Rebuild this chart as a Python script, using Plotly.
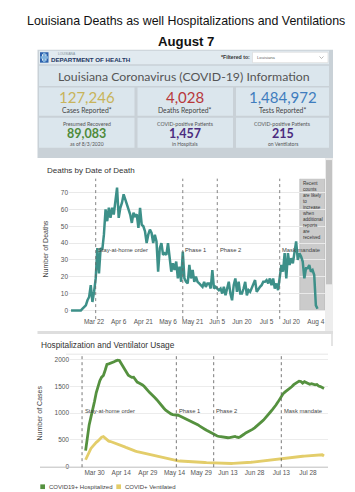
import pandas as pd
import plotly.graph_objects as go

# ---------------- data ----------------
death_start = "2020-03-08"
deaths_mar = [0, 0, 0, 0, 0, 0, 0, 1, 2, 3, 6, 8, 15, 5, 11, 19, 37, 22, 37, 36, 45, 60, 53, 61]
deaths_apr = [55, 61, 57, 67, 73, 55, 61, 64, 69, 66, 63, 60, 57, 52, 58, 56, 57, 49, 61, 51,
              50, 47, 40, 45, 48, 46, 40, 45, 41, 23]
deaths_may = [37, 40, 33, 34, 33, 40, 31, 23, 28, 24, 29, 19, 26, 17, 35, 19, 17,
              16, 27, 19, 24, 17, 20, 17, 16, 15, 14, 17, 14, 16, 16]
deaths_jun = [13, 24, 13, 14, 13, 12, 13, 10, 14, 9, 13, 17, 10, 6, 15, 19, 11, 17, 10, 10,
              13, 17, 9, 12, 11, 13, 16, 18, 11, 13]
deaths_jul = [14, 15, 17, 17, 18, 16, 19, 15, 19, 13, 16, 12, 20, 27, 23, 34, 19, 34, 27, 31,
              28, 35, 41, 30, 34, 32, 29, 19, 25, 25, 27]
deaths_aug = [23, 24, 21, 3, 1]

hosp_start = "2020-03-25"
hosp_mar = [300, 600, 780, 925, 1050, 1215, 1383]
hosp_apr = [1506, 1605, 1670, 1700, 1800, 1910, 1919, 1928, 1948, 1956, 1975, 1987, 1981, 1925, 1857,
            1814, 1748, 1705, 1685, 1666, 1670, 1610, 1578, 1560, 1549, 1525, 1495, 1450, 1416, 1383]
hosp_may = [1350, 1325, 1285, 1250, 1205, 1165, 1120, 1090, 1055, 1030, 1000, 985, 972, 970, 955, 960,
            945, 930, 910, 895, 880, 860, 845, 830, 815, 800, 785, 760, 735, 715, 700]
hosp_jun = [680, 660, 640, 620, 600, 585, 572, 565, 558, 550, 544, 540, 540, 542, 545, 555, 565, 550,
            545, 560, 575, 605, 630, 645, 660, 675, 700, 725, 750, 775]
hosp_jul = [805, 840, 870, 905, 940, 980, 1025, 1065, 1100, 1150, 1200, 1260, 1320, 1360, 1390, 1415,
            1435, 1470, 1495, 1530, 1550, 1565, 1595, 1590, 1560, 1585, 1570, 1550, 1538, 1548, 1535]
hosp_aug = [1527, 1535, 1505, 1495, 1480, 1460]

vent_mar = [130, 200, 280, 340, 380, 425, 455]
vent_apr = [480, 525, 550, 560, 535, 500, 477, 470, 459, 445, 435, 425, 410, 395, 385, 370, 355, 340,
            322, 310, 300, 292, 283, 275, 268, 260, 250, 243, 235, 228]
vent_may = [220, 210, 200, 193, 186, 180, 172, 165, 155, 148, 140, 136, 130, 124, 118, 110, 106, 103,
            101, 99, 97, 95, 93, 91, 90, 89, 88, 85, 82, 80, 78]
vent_jun = [76, 74, 72, 71, 70, 68, 66, 64, 62, 61, 60, 60, 59, 59, 60, 61, 62, 63, 65, 67, 69, 71,
            74, 77, 80, 83, 86, 90, 93, 97]
vent_jul = [100, 104, 108, 113, 118, 124, 130, 135, 140, 145, 150, 152, 155, 160, 165, 170, 175, 180,
            183, 186, 190, 193, 194, 194, 195, 197, 200, 205, 210, 213, 216]
vent_aug = [220, 224, 228, 232, 222, 200]

death_tick_dates = ["2020-03-22", "2020-04-06", "2020-04-21", "2020-05-06", "2020-05-21",
                    "2020-06-05", "2020-06-20", "2020-07-05", "2020-07-20", "2020-08-04"]
death_tick_labels = ["Mar 22", "Apr 6", "Apr 21", "May 6", "May 21", "Jun 5", "Jun 20",
                     "Jul 5", "Jul 20", "Aug 4"]
hosp_tick_dates = ["2020-03-30", "2020-04-14", "2020-04-29", "2020-05-14", "2020-05-29",
                   "2020-06-13", "2020-06-28", "2020-07-13", "2020-07-28"]
hosp_tick_labels = ["Mar 30", "Apr 14", "Apr 29", "May 14", "May 29", "Jun 13", "Jun 28",
                    "Jul 13", "Jul 28"]
death_y_ticks = [0, 10, 20, 30, 40, 50, 60, 70]
hosp_y_ticks = [0, 500, 1000, 1500, 2000]

event_dates = ["2020-03-23", "2020-05-15", "2020-06-05", "2020-07-13"]
event_labels = ["Stay-at-home order", "Phase 1", "Phase 2", "Mask mandate"]

kpi_values = ["127,246", "4,028", "1,484,972"]
kpi_labels = ["Cases Reported*", "Deaths Reported*", "Tests Reported*"]
kpi2_top = ["Presumed Recovered", "COVID-positive Patients", "COVID-positive Patients"]
kpi2_values = ["89,083", "1,457", "215"]
kpi2_bottom = ["as of 8/3/2020", "in Hospitals", "on Ventilators"]

# ---------------- helpers ----------------
W, H = 355, 492
def PX(x): return x / W
def PY(y): return 1 - y / H

deaths = deaths_mar + deaths_apr + deaths_may + deaths_jun + deaths_jul + deaths_aug
hosp = hosp_mar + hosp_apr + hosp_may + hosp_jun + hosp_jul + hosp_aug
vent = vent_mar + vent_apr + vent_may + vent_jun + vent_jul + vent_aug
death_dates = pd.date_range(death_start, periods=len(deaths), freq="D")
hosp_dates = pd.date_range(hosp_start, periods=len(hosp), freq="D")

CF = "Liberation Sans, Arial, sans-serif"
DF = "Lato, Open Sans, sans-serif"

shapes = []
ann = []

def rect(x0, y0, x1, y1, color, line=None, layer="below"):
    d = dict(type="rect", xref="paper", yref="paper", x0=PX(x0), x1=PX(x1), y0=PY(y1), y1=PY(y0),
             fillcolor=color, layer=layer, line=dict(width=0))
    if line:
        d["line"] = dict(width=0.6, color=line)
    shapes.append(d)

def text(x, y, s, size, color="#444", xanchor="center", bold=False, font=DF, yanchor="middle"):
    if bold:
        s = "<b>" + s + "</b>"
    ann.append(dict(xref="paper", yref="paper", x=PX(x), y=PY(y), text=s, showarrow=False,
                    xanchor=xanchor, yanchor=yanchor, font=dict(size=size, color=color, family=font),
                    borderpad=0))

# ---------------- dashboard panel ----------------
rect(29.5, 42, 325, 151, "#c9d1d7")
rect(31, 43, 321, 56.5, "#e1eaf0")
rect(31, 58, 321, 78.5, "#dbe6ed")
box_x = [(31, 126.5), (129.5, 225), (228, 321)]
for (a, b) in box_x:
    rect(a, 80, b, 108.5, "#dbe6ed")
    rect(a, 110.5, b, 140.5, "#dbe6ed")

# logo
rect(32, 44.5, 40.5, 55, "#2d62ad")
rect(34, 46.5, 38.5, 53, "#e1eaf0")
rect(35, 45, 37.5, 54.5, "#7fb2dd")
rect(32.5, 48.5, 40, 51, "#7fb2dd")
text(49, 46.3, "LOUISIANA", 3.2, "#7b8a99", "left", font=CF)
text(42, 51.8, "DEPARTMENT OF HEALTH", 6.2, "#1d3763", "left", bold=True, font=CF)
text(243, 49.5, "*Filtered to:", 5.2, "#333", "right", bold=True, font=CF)
rect(244.5, 44.5, 320, 55, "#ffffff", line="#d5d5d5")
text(248, 49.8, "Louisiana", 4.2, "#666", "left", font=CF)
shapes.append(dict(type="path", xref="paper", yref="paper",
                   path="M {} {} L {} {} L {} {}".format(PX(311.5), PY(48.8), PX(313.5), PY(50.8),
                                                       PX(315.5), PY(48.8)),
                   line=dict(color="#999", width=0.7)))

text(176, 68.5, "Louisiana Coronavirus (COVID-19) Information", 12.3, "#555")

kpi_colors = ["#c8b45b", "#b8383b", "#3f7dbe"]
kpi2_colors = ["#4f8b3b", "#4b2c7f", "#4b2c7f"]
centers = [(a + b) / 2 for a, b in box_x]
for i, cx in enumerate(centers):
    text(cx, 90, kpi_values[i], 15, kpi_colors[i])
    text(cx, 102.8, kpi_labels[i], 6.8, "#444")
    text(cx, 116.3, kpi2_top[i], 5.2, "#555")
    text(cx, 126.5, kpi2_values[i], 12.5, kpi2_colors[i], bold=True)
    text(cx, 136.8, kpi2_bottom[i], 5, "#555")

# ---------------- deaths panel ----------------
rect(31, 151, 317, 325, "#ffffff")
rect(317, 151, 325, 325, "#ededed")
rect(318, 153, 324, 278, "#c3c3c3")
rect(29.5, 325, 325, 328, "#dedede")
rect(323, 328, 325, 340, "#e4e4e4")
text(38, 164, "Deaths by Date of Death", 8, "#333", "left", font=CF)
ann.append(dict(xref="paper", yref="paper", x=PX(38), y=PY(243), text="Number of Deaths",
                textangle=-90, showarrow=False, xanchor="center", yanchor="middle",
                font=dict(size=7, color="#444", family=CF)))

# ---------------- hosp panel ----------------
text(32, 339.5, "Hospitalization and Ventilator Usage", 8.3, "#333", "left", font=CF)
ann.append(dict(xref="paper", yref="paper", x=PX(32), y=PY(408), text="Number of Cases",
                textangle=-90, showarrow=False, xanchor="center", yanchor="middle",
                font=dict(size=7, color="#444", family=CF)))
shapes.append(dict(type="line", xref="paper", yref="paper", x0=PX(32), x1=PX(320), y0=PY(462),
                   y1=PY(462), line=dict(color="#bdbdbd", width=1)))
shapes.append(dict(type="line", xref="paper", yref="paper", x0=PX(58), x1=PX(320), y0=PY(348.3),
                   y1=PY(348.3), line=dict(color="#e6e6e6", width=1)))
rect(0, 488, 355, 492, "#e6e6e6")
# legend
rect(32.3, 479.3, 37, 484, "#55913f")
text(39.5, 481.7, "COVID19+ Hospitalized", 6, "#444", "left", font=CF)
rect(108.3, 479.3, 113, 484, "#e3cd6a")
text(116, 481.7, "COVID+ Ventilated", 6, "#444", "left", font=CF)

# titles
text(177.5, 13.5, "Louisiana Deaths as well Hospitalizations and Ventilations", 12.4, "#111", font=CF)
text(177.5, 33.5, "August 7", 13.2, "#111", bold=True, font=CF)

# ---------------- event lines ----------------
for i, dte in enumerate(event_dates):
    shapes.append(dict(type="line", xref="x", yref="paper", x0=dte, x1=dte, y0=PY(313), y1=PY(171.7),
                       line=dict(color="#666", width=0.8, dash="dot")))
    shapes.append(dict(type="line", xref="x2", yref="paper", x0=dte, x1=dte, y0=PY(462), y1=PY(348.3),
                       line=dict(color="#555", width=0.8, dash="dot")))
    ann.append(dict(xref="x", yref="y", x=dte, y=36, text=event_labels[i], showarrow=False,
                    xanchor="left", xshift=0.5, font=dict(size=5.8, color="#444", family=CF)))
    ann.append(dict(xref="x2", yref="y2", x=dte, y=1044, text=event_labels[i], showarrow=False,
                    xanchor="left", xshift=0.5, font=dict(size=5.8, color="#444", family=CF)))

# shaded "recent" region
shapes.append(dict(type="rect", xref="x", yref="y", x0="2020-07-25 05:00", x1="2020-08-09 13:30",
                   y0=0, y1=78.3, fillcolor="#cbcbcb", layer="below", line=dict(width=0.6, color="#b0b0b0")))
ann.append(dict(xref="paper", yref="paper", x=PX(292.5), y=PY(172.5), xanchor="left", yanchor="top",
                text="Recent<br>counts<br>are likely<br>to<br>increase<br>when<br>additional<br>reports<br>are<br>received",
                align="left", showarrow=False, font=dict(size=4.6, color="#333", family=CF)))

# ---------------- traces ----------------
fig = go.Figure()
fig.add_trace(go.Scatter(x=death_dates, y=deaths, mode="lines", xaxis="x", yaxis="y",
                         line=dict(color="#3d9089", width=2.5), hoverinfo="skip"))
fig.add_trace(go.Scatter(x=hosp_dates, y=vent, mode="lines", xaxis="x2", yaxis="y2",
                         line=dict(color="#e3cd6a", width=2.8), name="COVID+ Ventilated"))
fig.add_trace(go.Scatter(x=hosp_dates, y=hosp, mode="lines", xaxis="x2", yaxis="y2",
                         line=dict(color="#55913f", width=2.8), name="COVID19+ Hospitalized"))

tickf = dict(size=6.5, color="#555", family=CF)
fig.update_layout(
    width=W, height=H, margin=dict(l=0, r=0, t=0, b=0),
    paper_bgcolor="white", plot_bgcolor="rgba(0,0,0,0)", showlegend=False,
    xaxis=dict(domain=[PX(61), PX(317)], range=["2020-03-06 18:00", "2020-08-09 13:30"], type="date",
               tickvals=death_tick_dates, ticktext=death_tick_labels, showgrid=False, zeroline=False,
               ticks="", tickfont=tickf, anchor="y", ticklabelstandoff=0, fixedrange=True),
    yaxis=dict(domain=[PY(310), PY(171.7)], range=[-3.4, 78.3], tickvals=death_y_ticks,
               showgrid=True, gridcolor="#e9e9e9", gridwidth=1, zeroline=False, ticks="",
               tickfont=tickf, anchor="x", fixedrange=True),
    xaxis2=dict(domain=[PX(62), PX(320)], range=["2020-03-16 05:30", "2020-08-08 06:00"], type="date",
                tickvals=hosp_tick_dates, ticktext=hosp_tick_labels, showgrid=False, zeroline=False,
                ticks="", tickfont=tickf, anchor="y2", ticklabelstandoff=0, fixedrange=True),
    yaxis2=dict(domain=[PY(462), PY(348.3)], range=[-9, 2099], tickvals=hosp_y_ticks,
                showgrid=True, gridcolor="#ececec", gridwidth=1, zeroline=False, ticks="",
                tickfont=tickf, anchor="x2", fixedrange=True),
    shapes=shapes, annotations=ann,
)

fig.write_html("out.html")
